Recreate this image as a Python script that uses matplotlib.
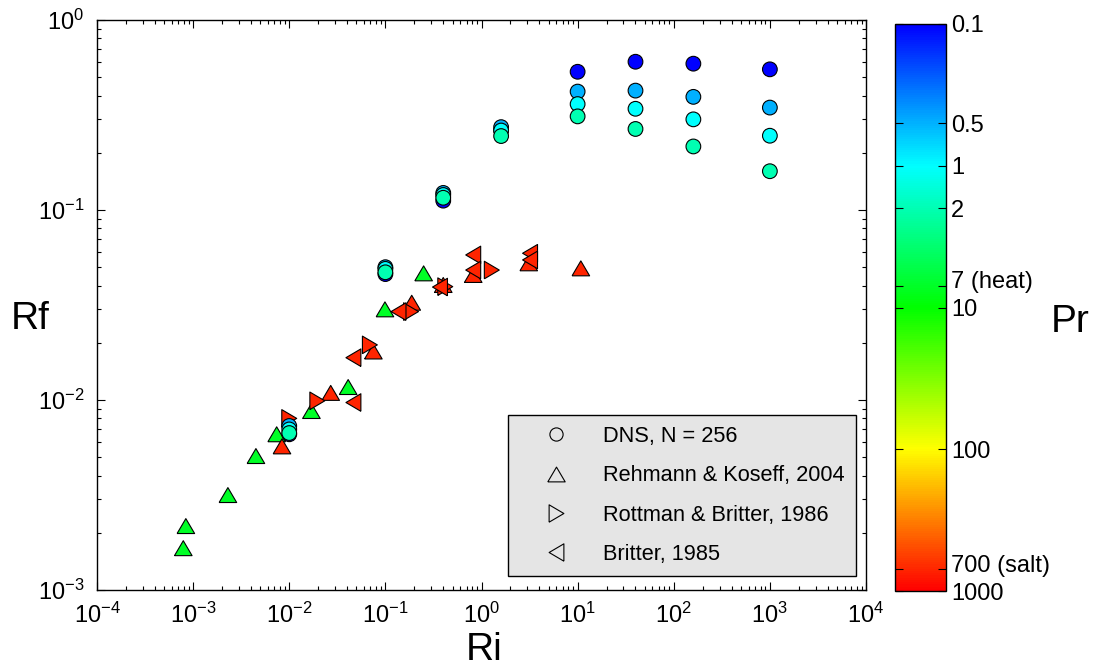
import numpy as np
import matplotlib
matplotlib.use("Agg")
import matplotlib.pyplot as plt
import matplotlib.transforms as mtransforms
from matplotlib.colors import LinearSegmentedColormap, LogNorm
from matplotlib.lines import Line2D
from matplotlib.cm import ScalarMappable
from matplotlib.ticker import LogLocator, NullLocator

plt.rcParams['font.family'] = ['Liberation Sans', 'DejaVu Sans']
plt.rcParams['mathtext.fontset'] = 'custom'
plt.rcParams['mathtext.rm'] = 'Liberation Sans'
plt.rcParams['mathtext.it'] = 'Liberation Sans:italic'
plt.rcParams['mathtext.bf'] = 'Liberation Sans:bold'

# DNS, N = 256 (one series per Prandtl number)
ri_dns = [0.01, 0.1, 0.4, 1.6, 10, 40, 160, 1000]
pr_dns = [0.1, 0.5, 1, 2]
rf_pr01 = [0.0066, 0.046, 0.112, 0.262, 0.534, 0.603, 0.589, 0.55]
rf_pr05 = [0.0073, 0.050, 0.123, 0.273, 0.42, 0.425, 0.394, 0.346]
rf_pr1 = [0.0070, 0.049, 0.120, 0.262, 0.361, 0.341, 0.30, 0.246]
rf_pr2 = [0.0067, 0.047, 0.116, 0.245, 0.311, 0.267, 0.216, 0.160]

# Rehmann & Koseff, 2004 (heat Pr=7, salt Pr=700)
rk_ri_heat = [7.9e-4, 8.4e-4, 2.3e-3, 4.5e-3, 7.4e-3, 0.017, 0.041, 0.099, 0.25]
rk_rf_heat = [1.66e-3, 2.17e-3, 3.16e-3, 5.07e-3, 6.6e-3, 8.75e-3, 0.0117, 0.030, 0.0464]
rk_ri_salt = [0.0084, 0.027, 0.075, 0.188, 0.40, 0.82, 3.1, 10.8]
rk_rf_salt = [0.0057, 0.0109, 0.018, 0.0325, 0.0403, 0.0455, 0.0524, 0.0493]

# Rottman & Britter, 1986 (salt)
rb_ri = [0.010, 0.0196, 0.069, 0.185, 0.42, 1.28]
rb_rf = [0.0080, 0.0099, 0.0195, 0.0292, 0.0395, 0.0483]

# Britter, 1985 (salt)
br_ri = [0.0465, 0.0465, 0.137, 0.37, 0.82, 0.82, 3.2, 3.2]
br_rf = [0.0097, 0.0167, 0.0292, 0.0393, 0.058, 0.0483, 0.0592, 0.0546]

pr_heat = 7
pr_salt = 700

cb_ticks = [0.1, 0.5, 1, 2, 7, 10, 100, 700, 1000]
cb_labels = ['0.1', '0.5', '1', '2', '7 (heat)', '10', '100', '700 (salt)', '1000']

legend_labels = ['DNS, N = 256', 'Rehmann & Koseff, 2004',
                 'Rottman & Britter, 1986', 'Britter, 1985']

# wide MATLAB-like triangles
tri_up = [(-1, -0.85), (1, -0.85), (0, 0.85), (-1, -0.85)]
tri_right = [(-0.85, -1), (0.85, 0), (-0.85, 1), (-0.85, -1)]
tri_left = [(0.85, -1), (-0.85, 0), (0.85, 1), (0.85, -1)]

cmap = LinearSegmentedColormap.from_list('pr', ['blue', 'cyan', 'lime', 'yellow', 'red'])
norm = LogNorm(vmin=0.1, vmax=1000)

fig = plt.figure(figsize=(10.96, 6.72), dpi=100)
ax = fig.add_axes([97 / 1096, 1 - 590 / 672, 769 / 1096, 570 / 672])

s_tri = 160
s_circ = 112
ew = 0.8

ax.scatter(rk_ri_heat, rk_rf_heat, c=[pr_heat] * len(rk_ri_heat), cmap=cmap, norm=norm,
           marker=tri_up, s=s_tri, edgecolors='k', linewidths=ew, zorder=3)
ax.scatter(rk_ri_salt, rk_rf_salt, c=[pr_salt] * len(rk_ri_salt), cmap=cmap, norm=norm,
           marker=tri_up, s=s_tri, edgecolors='k', linewidths=ew, zorder=3)
ax.scatter(rb_ri, rb_rf, c=[pr_salt] * len(rb_ri), cmap=cmap, norm=norm,
           marker=tri_right, s=s_tri, edgecolors='k', linewidths=ew, zorder=3)
ax.scatter(br_ri, br_rf, c=[pr_salt] * len(br_ri), cmap=cmap, norm=norm,
           marker=tri_left, s=s_tri, edgecolors='k', linewidths=ew, zorder=3)

for pr, rf in zip(pr_dns, [rf_pr01, rf_pr05, rf_pr1, rf_pr2]):
    ax.scatter(ri_dns, rf, c=[pr] * len(ri_dns), cmap=cmap, norm=norm,
               marker='o', s=s_circ, edgecolors='k', linewidths=ew, zorder=4)

ax.set_xscale('log')
ax.set_yscale('log')
ax.set_xlim(1e-4, 1e4)
ax.set_ylim(1e-3, 1)
ax.xaxis.set_major_locator(LogLocator(base=10, numticks=20))
ax.xaxis.set_minor_locator(LogLocator(base=10, subs=np.arange(2, 10), numticks=20))
ax.tick_params(which='both', direction='in', top=True, right=True, labelsize=17, width=0.8)
ax.tick_params(which='major', length=6, pad=9)
ax.tick_params(which='minor', length=3)
for sp in ax.spines.values():
    sp.set_linewidth(1.0)

handles = [
    Line2D([], [], ls='none', marker='o', mfc='none', mec='k', ms=9.5, mew=0.8),
    Line2D([], [], ls='none', marker=tri_up, mfc='none', mec='k', ms=12.5, mew=0.8),
    Line2D([], [], ls='none', marker=tri_right, mfc='none', mec='k', ms=12.5, mew=0.8),
    Line2D([], [], ls='none', marker=tri_left, mfc='none', mec='k', ms=12.5, mew=0.8),
]
leg = ax.legend(handles, legend_labels, loc='lower right', bbox_to_anchor=(0.987, 0.0246),
                borderaxespad=0, fontsize=15.7, numpoints=1, handlelength=3.4,
                handletextpad=0.5, labelspacing=0.84, borderpad=0.5,
                fancybox=False, framealpha=1, facecolor='#e5e5e5', edgecolor='k')
leg.get_frame().set_linewidth(1.0)

fig.text(30 / 1096, 1 - 319 / 672, 'Rf', fontsize=28, ha='center', va='center')
fig.text(484 / 1096, 1 - 650 / 672, 'Ri', fontsize=28, ha='center', va='center')

cax = fig.add_axes([895 / 1096, 1 - 591 / 672, 51 / 1096, 567 / 672])
sm = ScalarMappable(norm=norm, cmap=cmap)
cb = fig.colorbar(sm, cax=cax)
cb.set_ticks(cb_ticks)
cb.set_ticklabels(cb_labels)
cax.invert_yaxis()
cax.yaxis.set_minor_locator(NullLocator())
cax.tick_params(which='both', direction='in', left=True, right=True, labelsize=17,
                length=6, width=0.8)
cb.outline.set_linewidth(1.0)

# nudge the crowded labels apart a little
for lab in cax.get_yticklabels():
    if lab.get_text() in ('7 (heat)', '700 (salt)'):
        lab.set_transform(lab.get_transform() +
                          mtransforms.ScaledTranslation(0, 4 / 72, fig.dpi_scale_trans))

fig.text(1070 / 1096, 1 - 322 / 672, 'Pr', fontsize=28, ha='center', va='center')

fig.savefig('out.png', dpi=100)
